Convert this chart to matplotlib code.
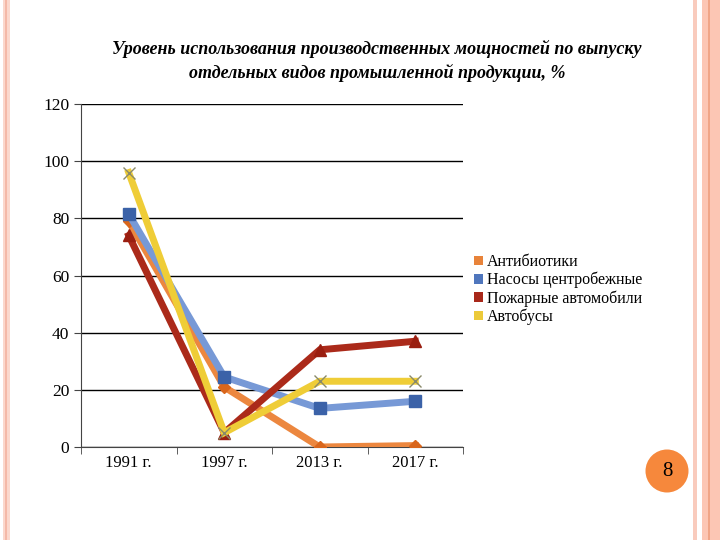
import matplotlib.pyplot as plt
from matplotlib.patches import Patch, Rectangle, Ellipse

plt.rcParams['font.family'] = ['Liberation Serif', 'DejaVu Serif']

years = ['1991 г.', '1997 г.', '2013 г.', '2017 г.']
antibiotics = [79, 21, 0, 0.5]
pumps = [81.5, 24.5, 13.5, 16]
fire_trucks = [74, 5, 34, 37]
buses = [96, 5, 23, 23]
series_names = ['Антибиотики', 'Насосы центробежные', 'Пожарные автомобили', 'Автобусы']

fig = plt.figure(figsize=(7.2, 5.4), dpi=100)

# рамка слайда
fig.patches.append(Rectangle((3 / 720, 0), 7 / 720, 1, transform=fig.transFigure,
                             facecolor='#fbd8cd', edgecolor='none'))
fig.patches.append(Rectangle((5 / 720, 0), 2 / 720, 1, transform=fig.transFigure,
                             facecolor='#f4b9a8', edgecolor='none'))
fig.patches.append(Rectangle((693 / 720, 0), 4 / 720, 1, transform=fig.transFigure,
                             facecolor='#f9cbbd', edgecolor='none'))
fig.patches.append(Rectangle((702 / 720, 0), 18 / 720, 1, transform=fig.transFigure,
                             facecolor='#fcc6b4', edgecolor='none'))
fig.patches.append(Rectangle((708 / 720, 0), 2 / 720, 1, transform=fig.transFigure,
                             facecolor='#f0a587', edgecolor='none'))

ax = fig.add_axes([81 / 720, 1 - 447 / 540, 382 / 720, 343 / 540])

x = list(range(len(years)))
ax.plot(x, antibiotics, color='#ec873f', lw=5, marker='D', ms=6,
        mfc='#d9661c', mec='#d9661c', solid_joinstyle='miter', zorder=3)
ax.plot(x, pumps, color='#7799d6', lw=5, marker='s', ms=8,
        mfc='#3b62a8', mec='#3b62a8', solid_joinstyle='miter', zorder=4)
ax.plot(x, fire_trucks, color='#ab2a1a', lw=5, marker='^', ms=8,
        mfc='#9a1e10', mec='#9a1e10', solid_joinstyle='miter', zorder=5)
ax.plot(x, buses, color='#efcd37', lw=5, marker='x', ms=8, mew=1,
        mec='#8a8a6a', solid_joinstyle='miter', zorder=6)

ax.set_xlim(-0.5, 3.5)
ax.set_ylim(0, 120)
ax.set_yticks(range(0, 121, 20))
ax.set_xticks(x)
ax.set_xticklabels(years, fontsize=12)
ax.set_xticks([-0.5, 0.5, 1.5, 2.5, 3.5], minor=True)
ax.tick_params(axis='x', which='major', length=0, pad=6)
ax.tick_params(axis='x', which='minor', length=5, direction='out', color='#444444')
ax.tick_params(axis='y', labelsize=12.5, length=5, color='#444444')
ax.grid(axis='y', color='black', lw=1)
ax.set_axisbelow(True)
for s in ['top', 'right']:
    ax.spines[s].set_visible(False)
ax.spines['left'].set_color('#444444')
ax.spines['bottom'].set_color('#444444')

handles = [Patch(facecolor=c, edgecolor='none') for c in
           ['#e8833a', '#4f76bd', '#a8281a', '#ecca3a']]
fig.legend(handles, series_names, loc='upper left', bbox_to_anchor=(474 / 720, 1 - 254 / 540),
           frameon=False, fontsize=11.5, handlelength=0.55, handleheight=0.55,
           handletextpad=0.25, labelspacing=0.12, borderaxespad=0, borderpad=0)

fig.text(377 / 720, 1 - 61 / 540,
         'Уровень использования производственных мощностей по выпуску\n'
         'отдельных видов промышленной продукции, %',
         ha='center', va='center', fontsize=13, fontweight='bold', fontstyle='italic',
         linespacing=1.4)

# номер слайда
fig.patches.append(Ellipse((667 / 720, 1 - 471 / 540), 43 / 720, 43 / 540,
                           transform=fig.transFigure, facecolor='#f6883c', edgecolor='none'))
fig.text(667 / 720, 1 - 472 / 540, '8', ha='center', va='center', fontsize=15)

fig.savefig('out.png', dpi=100)
